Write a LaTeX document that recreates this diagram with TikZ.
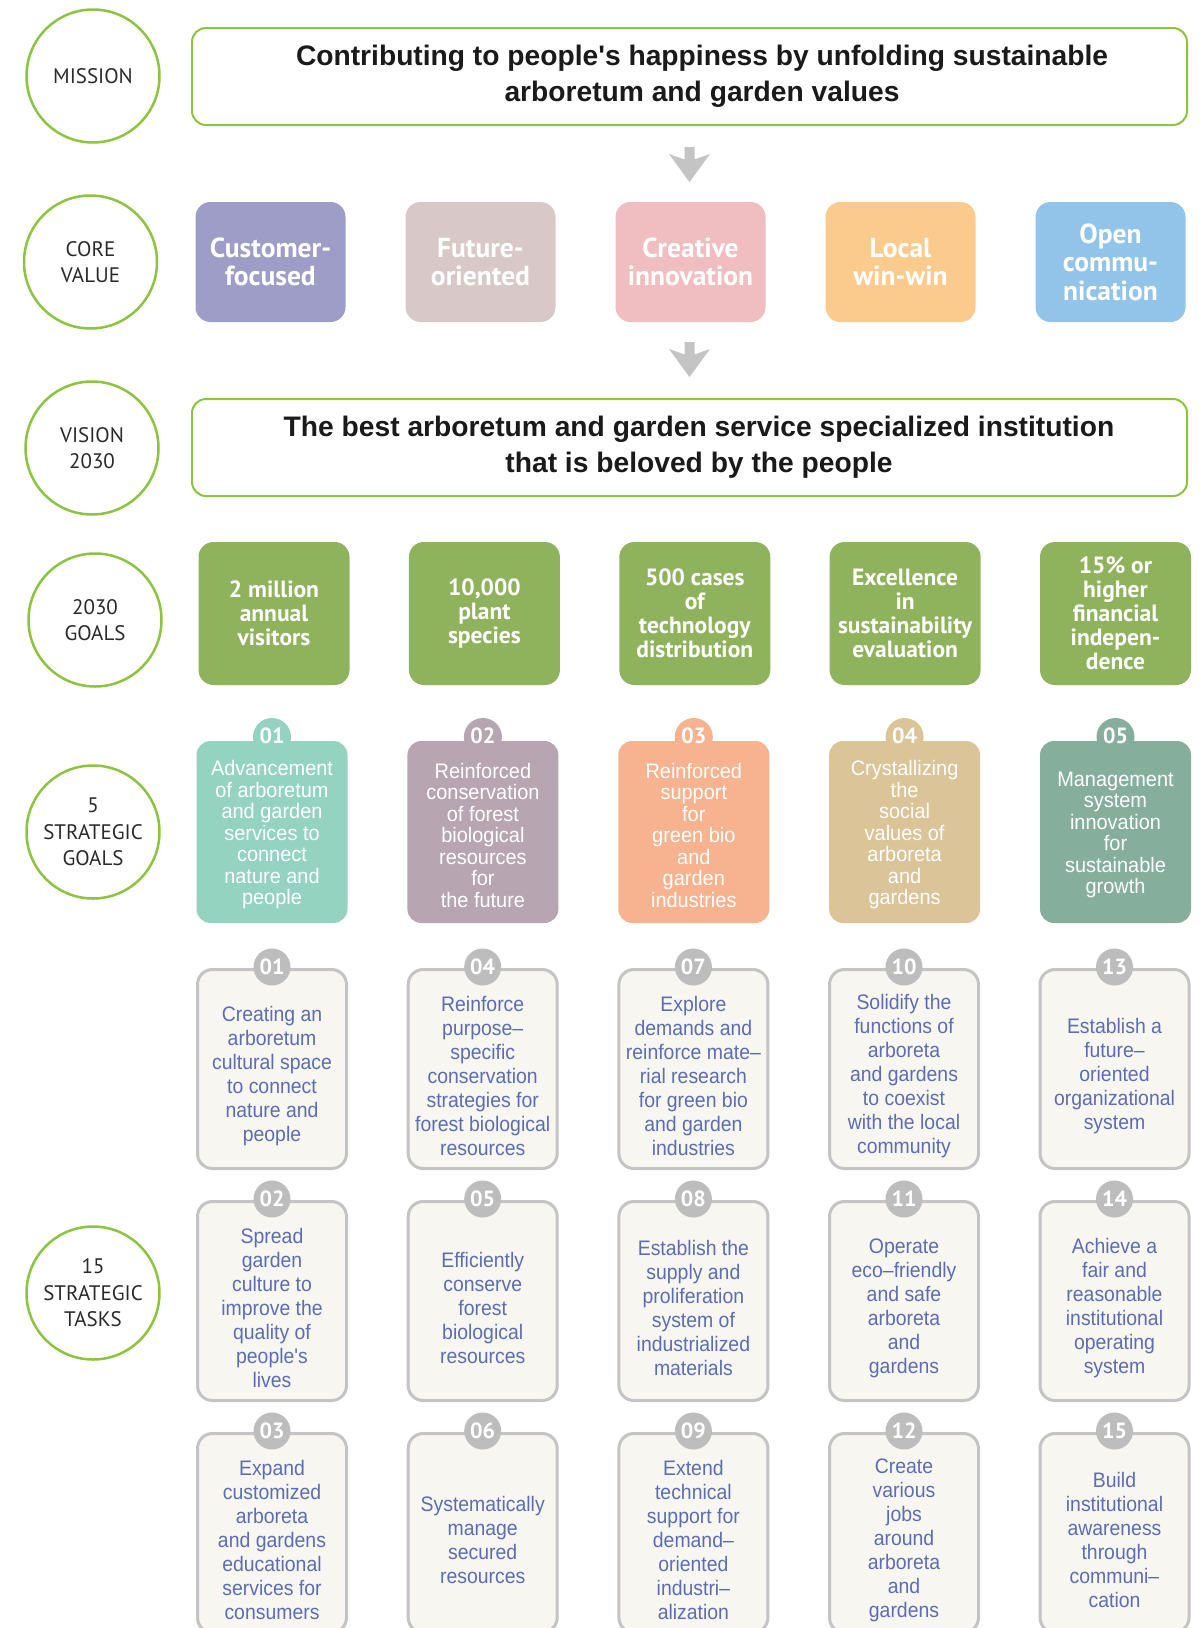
\documentclass[tikz,border=0pt]{standalone}
\usepackage{fontspec}
\setmainfont{Liberation Sans}[Ligatures=TeXOff]
\newfontfamily\lblfont{PT Sans}
\newfontfamily\valfont{PT Sans}
\newfontfamily\taskfont{Liberation Sans}[FakeStretch=0.925,Ligatures=TeXOff]
\newfontfamily\sgfont{Liberation Sans}[FakeStretch=0.95,Ligatures=TeXOff]
\definecolor{cgreen}{HTML}{8CC43F}
\definecolor{cvA}{HTML}{9D9DC8}
\definecolor{cvB}{HTML}{D8C9C8}
\definecolor{cvC}{HTML}{F0BDC0}
\definecolor{cvD}{HTML}{FACB8D}
\definecolor{cvE}{HTML}{92C3E8}
\definecolor{goalgreen}{HTML}{8FB35D}
\definecolor{sgA}{HTML}{94D3BF}
\definecolor{sgB}{HTML}{B7A5B2}
\definecolor{sgC}{HTML}{F7B28F}
\definecolor{sgD}{HTML}{DBC497}
\definecolor{sgE}{HTML}{85AE9D}
\definecolor{taskfill}{HTML}{F7F6F1}
\definecolor{taskborder}{HTML}{C4C4C4}
\definecolor{numgray}{HTML}{BDBDBD}
\definecolor{taskblue}{HTML}{5B6DB4}
\definecolor{titletext}{HTML}{1A1A1A}
\definecolor{lbltext}{HTML}{2A2A2A}
\definecolor{arrowgray}{HTML}{C4C4C4}
\newcommand\sgitem[5]{%
  \node[circle, fill=#3, minimum size=38pt, inner sep=0pt] (#1tab) at (#2,737) {};
  \node[sgbox, fill=#3] (#1) at (#2,832) {};
  \node[sgtext] (#1txt) at (#2,835) {#5};
  \node[numtxt] (#1num) at (#2,735.5) {#4};
}
\newcommand\taskitem[5]{%
  \node[taskbox] (#1) at (#2,#3+101) {};
  \node[tasktext] (#1txt) at (#2,#3+108) {#5};
  \node[numc] (#1num) at (#2,#3-1) {#4};
}
\begin{document}
\begin{tikzpicture}[x=1pt,y=-1pt,
  lbl/.style={circle, draw=cgreen, line width=2.5pt, minimum size=133pt, inner sep=0pt, align=center, text=lbltext, font=\lblfont\fontsize{21}{26.5}\selectfont},
  bigbox/.style={draw=cgreen, line width=2pt, rounded corners=14pt, minimum width=995pt, minimum height=97pt, inner sep=0pt},
  bigtext/.style={inner sep=0pt, align=center, text=titletext, font=\bfseries\fontsize{28.2}{36}\selectfont},
  valbox/.style={rounded corners=15pt, minimum width=150pt, minimum height=120pt, inner sep=0pt, align=center, text=white, font=\valfont\bfseries\fontsize{27.5}{28.5}\selectfont},
  goalbox/.style={fill=goalgreen, rounded corners=15pt, minimum width=151pt, minimum height=143pt, inner sep=0pt, align=center, text=white, font=\valfont\bfseries\fontsize{23.5}{24}\selectfont},
  sgbox/.style={rounded corners=14pt, minimum width=151pt, minimum height=182pt, inner sep=0pt},
  sgtext/.style={inner sep=0pt, align=center, text=white, font=\sgfont\fontsize{21}{21.5}\selectfont},
  numtxt/.style={inner sep=0pt, text=white, font=\lblfont\bfseries\fontsize{22}{22}\selectfont},
  taskbox/.style={draw=taskborder, line width=3pt, fill=taskfill, rounded corners=15pt, minimum width=149pt, minimum height=199pt, inner sep=0pt},
  tasktext/.style={inner sep=0pt, align=center, text=taskblue, font=\taskfont\fontsize{21}{24}\selectfont},
  numc/.style={circle, fill=numgray, minimum size=37pt, inner sep=0pt, text=white, font=\lblfont\bfseries\fontsize{22}{22}\selectfont},
  arrowshape/.style={fill=arrowgray}
]
\path[use as bounding box] (0,0) rectangle (1203,1628);
\clip (0,0) rectangle (1203,1628);
\fill[white] (0,0) rectangle (1203,1628);

% row labels
\node[lbl] (cmission) at (93,76) {MISSION};
\node[lbl] (ccore) at (90.5,262) {CORE\\VALUE};
\node[lbl] (cvision) at (92,448) {VISION\\2030};
\node[lbl] (cgoals) at (95,620) {2030\\GOALS};
\node[lbl] (csg) at (93,832) {5\\STRATEGIC\\GOALS};
\node[lbl] (ctasks) at (93,1293) {15\\STRATEGIC\\TASKS};

% mission and vision
\node[bigbox] (mission) at (689.5,76.5) {};
\node[bigtext] (missiontxt) at (702,76.5) {Contributing to people's happiness by unfolding sustainable\\arboretum and garden values};
\node[bigbox] (vision) at (689.5,447.5) {};
\node[bigtext] (visiontxt) at (699,447.5) {The best arboretum and garden service specialized institution\\that is beloved by the people};

% arrows
\fill[arrowshape] (684.5,147) -- (694.5,147) -- (694.5,159.5) -- (710,154) -- (689.5,182) -- (669,154) -- (684.5,159.5) -- cycle;
\fill[arrowshape] (684.5,342) -- (694.5,342) -- (694.5,354.5) -- (710,349) -- (689.5,377) -- (669,349) -- (684.5,354.5) -- cycle;

% core values
\node[valbox, fill=cvA] (v1) at (270.5,262) {Customer-\\focused};
\node[valbox, fill=cvB] (v2) at (480.5,262) {Future-\\oriented};
\node[valbox, fill=cvC] (v3) at (690.5,262) {Creative\\innovation};
\node[valbox, fill=cvD] (v4) at (900.5,262) {Local\\win-win};
\node[valbox, fill=cvE] (v5) at (1110.5,262) {Open\\commu-\\nication};

% 2030 goals
\node[goalbox] (g1) at (274,613.5) {2 million\\annual\\visitors};
\node[goalbox] (g2) at (484.4,613.5) {10,000\\plant\\species};
\node[goalbox] (g3) at (694.8,613.5) {500 cases\\of\\technology\\distribution};
\node[goalbox] (g4) at (905.1,613.5) {Excellence\\in\\sustainability\\evaluation};
\node[goalbox] (g5) at (1115.5,613.5) {15\% or\\higher\\financial\\indepen-\\dence};

% strategic goals
\sgitem{s1}{272}{sgA}{01}{Advancement\\of arboretum\\and garden\\services to\\connect\\nature and\\people}
\sgitem{s2}{482.9}{sgB}{02}{Reinforced\\conservation\\of forest\\biological\\resources\\for\\the future}
\sgitem{s3}{693.8}{sgC}{03}{Reinforced\\support\\for\\green bio\\and\\garden\\industries}
\sgitem{s4}{904.6}{sgD}{04}{Crystallizing\\the\\social\\values of\\arboreta\\and\\gardens}
\sgitem{s5}{1115.5}{sgE}{05}{Management\\system\\innovation\\for\\sustainable\\growth}

% strategic tasks
\taskitem{t1}{272}{968}{01}{Creating an\\arboretum\\cultural space\\to connect\\nature and\\people}
\taskitem{t2}{272}{1200}{02}{Spread\\garden\\culture to\\improve the\\quality of\\people's\\lives}
\taskitem{t3}{272}{1432}{03}{Expand\\customized\\arboreta\\and gardens\\educational\\services for\\consumers}
\taskitem{t4}{482.7}{968}{04}{Reinforce\\purpose–\\specific\\conservation\\strategies for\\forest biological\\resources}
\taskitem{t5}{482.7}{1200}{05}{Efficiently\\conserve\\forest\\biological\\resources}
\taskitem{t6}{482.7}{1432}{06}{Systematically\\manage\\secured\\resources}
\taskitem{t7}{693.4}{968}{07}{Explore\\demands and\\reinforce mate–\\rial research\\for green bio\\and garden\\industries}
\taskitem{t8}{693.4}{1200}{08}{Establish the\\supply and\\proliferation\\system of\\industrialized\\materials}
\taskitem{t9}{693.4}{1432}{09}{Extend\\technical\\support for\\demand–\\oriented\\industri–\\alization}
\taskitem{t10}{904}{968}{10}{Solidify the\\functions of\\arboreta\\and gardens\\to coexist\\with the local\\community}
\taskitem{t11}{904}{1200}{11}{Operate\\eco–friendly\\and safe\\arboreta\\and\\gardens}
\taskitem{t12}{904}{1432}{12}{Create\\various\\jobs\\around\\arboreta\\and\\gardens}
\taskitem{t13}{1114.5}{968}{13}{Establish a\\future–\\oriented\\organizational\\system}
\taskitem{t14}{1114.5}{1200}{14}{Achieve a\\fair and\\reasonable\\institutional\\operating\\system}
\taskitem{t15}{1114.5}{1432}{15}{Build\\institutional\\awareness\\through\\communi–\\cation}
\end{tikzpicture}
\end{document}
